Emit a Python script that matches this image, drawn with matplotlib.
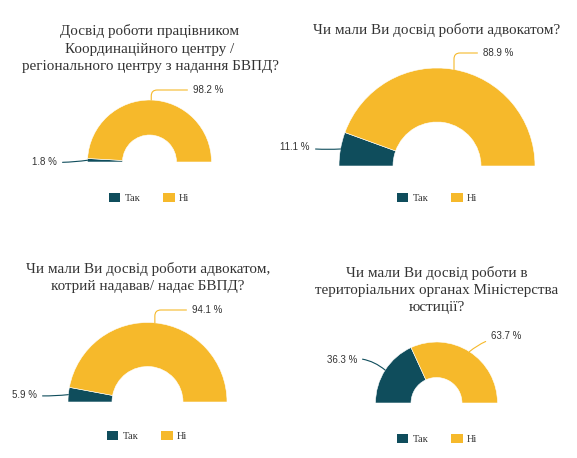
import numpy as np
import matplotlib.pyplot as plt

# Data
titles = [
    "Досвід роботи працівником\nКоординаційного центру /\nрегіонального центру з надання БВПД?",
    "Чи мали Ви досвід роботи адвокатом?",
    "Чи мали Ви досвід роботи адвокатом,\nкотрий надавав/ надає БВПД?",
    "Чи мали Ви досвід роботи в\nтериторіальних органах Міністерства\nюстиції?",
]
categories = ["Так", "Ні"]
tak_values = [1.8, 11.1, 5.9, 36.3]
ni_values = [98.2, 88.9, 94.1, 63.7]

colors = ["#0f4d5c", "#f6b92b"]
text_color = "#333333"

W, H = 577, 458
fig = plt.figure(figsize=(W / 100, H / 100), dpi=100)
fig.patch.set_facecolor("white")


def fx(x):
    return x / W


def fy(y):
    return 1 - y / H


# layout per panel (pixels): centre, outer radius, inner radius, title centre,
# legend centre, label positions for Так and Ні
panels = [
    dict(c=(149.5, 162), R=62, r=27, title=(150, 48.5), legend=(149, 198),
         lab_tak=(57, 162), lab_ni=(193, 90), style="top"),
    dict(c=(437, 166), R=98, r=44, title=(437, 30), legend=(437, 198),
         lab_tak=(310, 147), lab_ni=(483, 53), style="top"),
    dict(c=(147.5, 402), R=79.5, r=35.5, title=(148, 277.5), legend=(147, 436),
         lab_tak=(37, 395), lab_ni=(192, 310), style="top"),
    dict(c=(436.5, 403), R=61, r=25.5, title=(437, 290), legend=(437, 439),
         lab_tak=(357, 360), lab_ni=(491, 336), style="diag"),
]

for i, p in enumerate(panels):
    cx, cy = p["c"]
    R, r = p["R"], p["r"]
    ax = fig.add_axes([fx(cx - R), fy(cy + R), 2 * R / W, 2 * R / H])
    vals = [tak_values[i], ni_values[i], tak_values[i] + ni_values[i]]
    wedges, _ = ax.pie(vals, colors=colors + ["white"], startangle=180,
                       counterclock=False, radius=1,
                       wedgeprops=dict(width=(R - r) / R, edgecolor="white",
                                       linewidth=0.4))
    wedges[2].set_visible(False)
    ax.set_xlim(-1, 1)
    ax.set_ylim(-1, 1)
    ax.set_aspect("auto")
    ax.axis("off")

    # percentage labels with leader lines
    for j, (val, key) in enumerate(zip([tak_values[i], ni_values[i]],
                                       ["lab_tak", "lab_ni"])):
        w = wedges[j]
        mid = np.deg2rad((w.theta1 + w.theta2) / 2)
        anchor = (np.cos(mid), np.sin(mid))
        tx, ty = p[key]
        if j == 0:
            ha = "right"
            cs = "arc3,rad=0.05" if p["style"] == "top" else "arc3,rad=-0.25"
        else:
            ha = "left"
            cs = ("angle,angleA=0,angleB=90,rad=6" if p["style"] == "top"
                  else "arc3,rad=0.15")
        ax.annotate(f"{val} %", xy=anchor, xycoords="data",
                    xytext=(fx(tx), fy(ty)), textcoords="figure fraction",
                    ha=ha, va="center", fontsize=7, color=text_color,
                    family="Liberation Sans",
                    arrowprops=dict(arrowstyle="-", color=colors[j], lw=0.8,
                                    connectionstyle=cs, shrinkA=2, shrinkB=0),
                    annotation_clip=False)

    fig.text(fx(p["title"][0]), fy(p["title"][1]), titles[i], ha="center",
             va="center", fontsize=10.9, family="Liberation Serif",
             color=text_color, linespacing=1.45)

    leg = ax.legend(wedges[:2], categories, loc="center",
                    bbox_to_anchor=(fx(p["legend"][0]), fy(p["legend"][1])),
                    bbox_transform=fig.transFigure, ncol=2, frameon=False,
                    prop=dict(family="Liberation Serif", size=7.5),
                    handlelength=1.1, handleheight=0.9, handletextpad=0.4,
                    columnspacing=2.2)
    for t in leg.get_texts():
        t.set_color(text_color)
    for h in leg.legend_handles:
        h.set_edgecolor("none")

fig.savefig("out.png", dpi=100, facecolor="white")
